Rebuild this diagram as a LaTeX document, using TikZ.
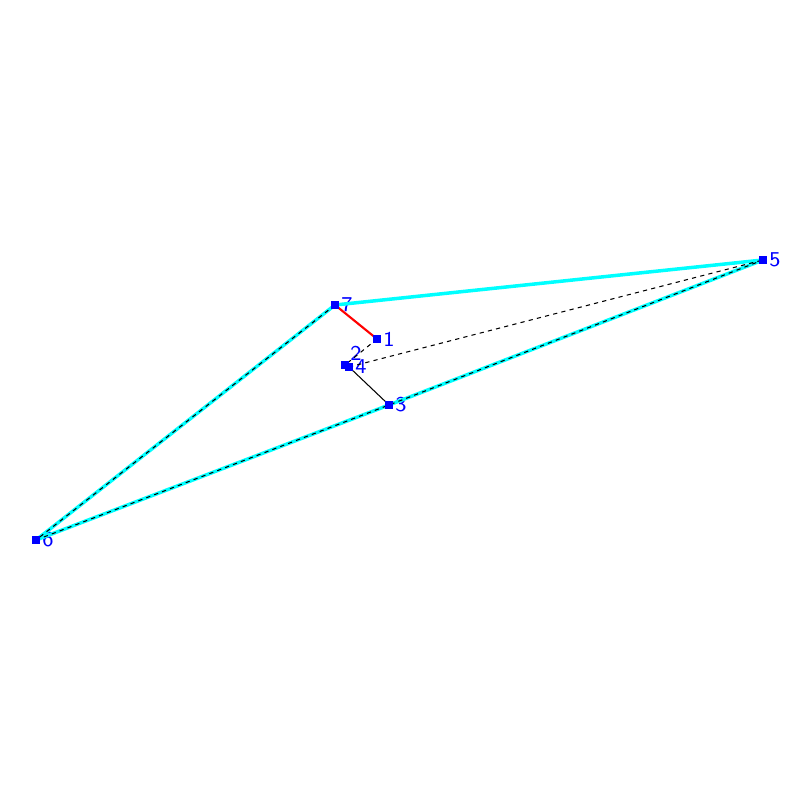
\documentclass[tikz,border=0pt]{standalone}
\usepackage{tikz}
\usetikzlibrary{positioning}
\definecolor{hullcyan}{RGB}{0,255,255}
\tikzset{
    pt/.style={fill=blue, inner sep=0pt, minimum size=0.08cm, rectangle},
    lbl/.style={text=blue, font=\sffamily\fontsize{6}{6}\selectfont, inner sep=0.3pt},
    hull/.style={hullcyan, line width=1pt},
    mst/.style={black, line width=0.3pt, dash pattern=on 1.2pt off 1.2pt},
}

\begin{document}
\begin{tikzpicture}
    \useasboundingbox (0,0) rectangle (8,8);
    \node[pt, label={[lbl]right:1}] (n1) at (3.77,4.61) {};
    \node[pt] (n2) at (3.45,4.35) {};
    \node[pt, label={[lbl]right:3}] (n3) at (3.89,3.95) {};
    \node[pt, label={[lbl]right:4}] (n4) at (3.49,4.33) {};
    \node[lbl, above right=-0.02cm and -0.01cm of n2] (l2) {2};
    \node[pt, label={[lbl]right:5}] (n5) at (7.63,5.40) {};
    \node[pt, label={[lbl]right:6}] (n6) at (0.36,2.60) {};
    \node[pt, label={[lbl]right:7}] (n7) at (3.35,4.95) {};
    % hull
    \draw[hull] (n7.center) -- (n5.center);
    \draw[hull] (n7.center) -- (n6.center);
    \draw[hull] (n6.center) -- (n3.center) -- (n5.center);
    \draw[mst] (n7.center) -- (n6.center);
    \draw[mst] (n6.center) -- (n3.center) -- (n5.center);
    % inner edges
    \draw[red, line width=0.6pt] (n7.center) -- (n1.center);
    \draw[mst] (n1.center) -- (n2.center);
    \draw[mst] (n4.center) -- (n5.center);
    \draw[black, line width=0.3pt] (n4.center) -- (n3.center);
    % markers on top
    \foreach \n in {n1,n2,n3,n4,n5,n6,n7}
        \fill[blue] (\n.center) ++(-0.04,-0.04) rectangle ++(0.08,0.08);
\end{tikzpicture}
\end{document}
